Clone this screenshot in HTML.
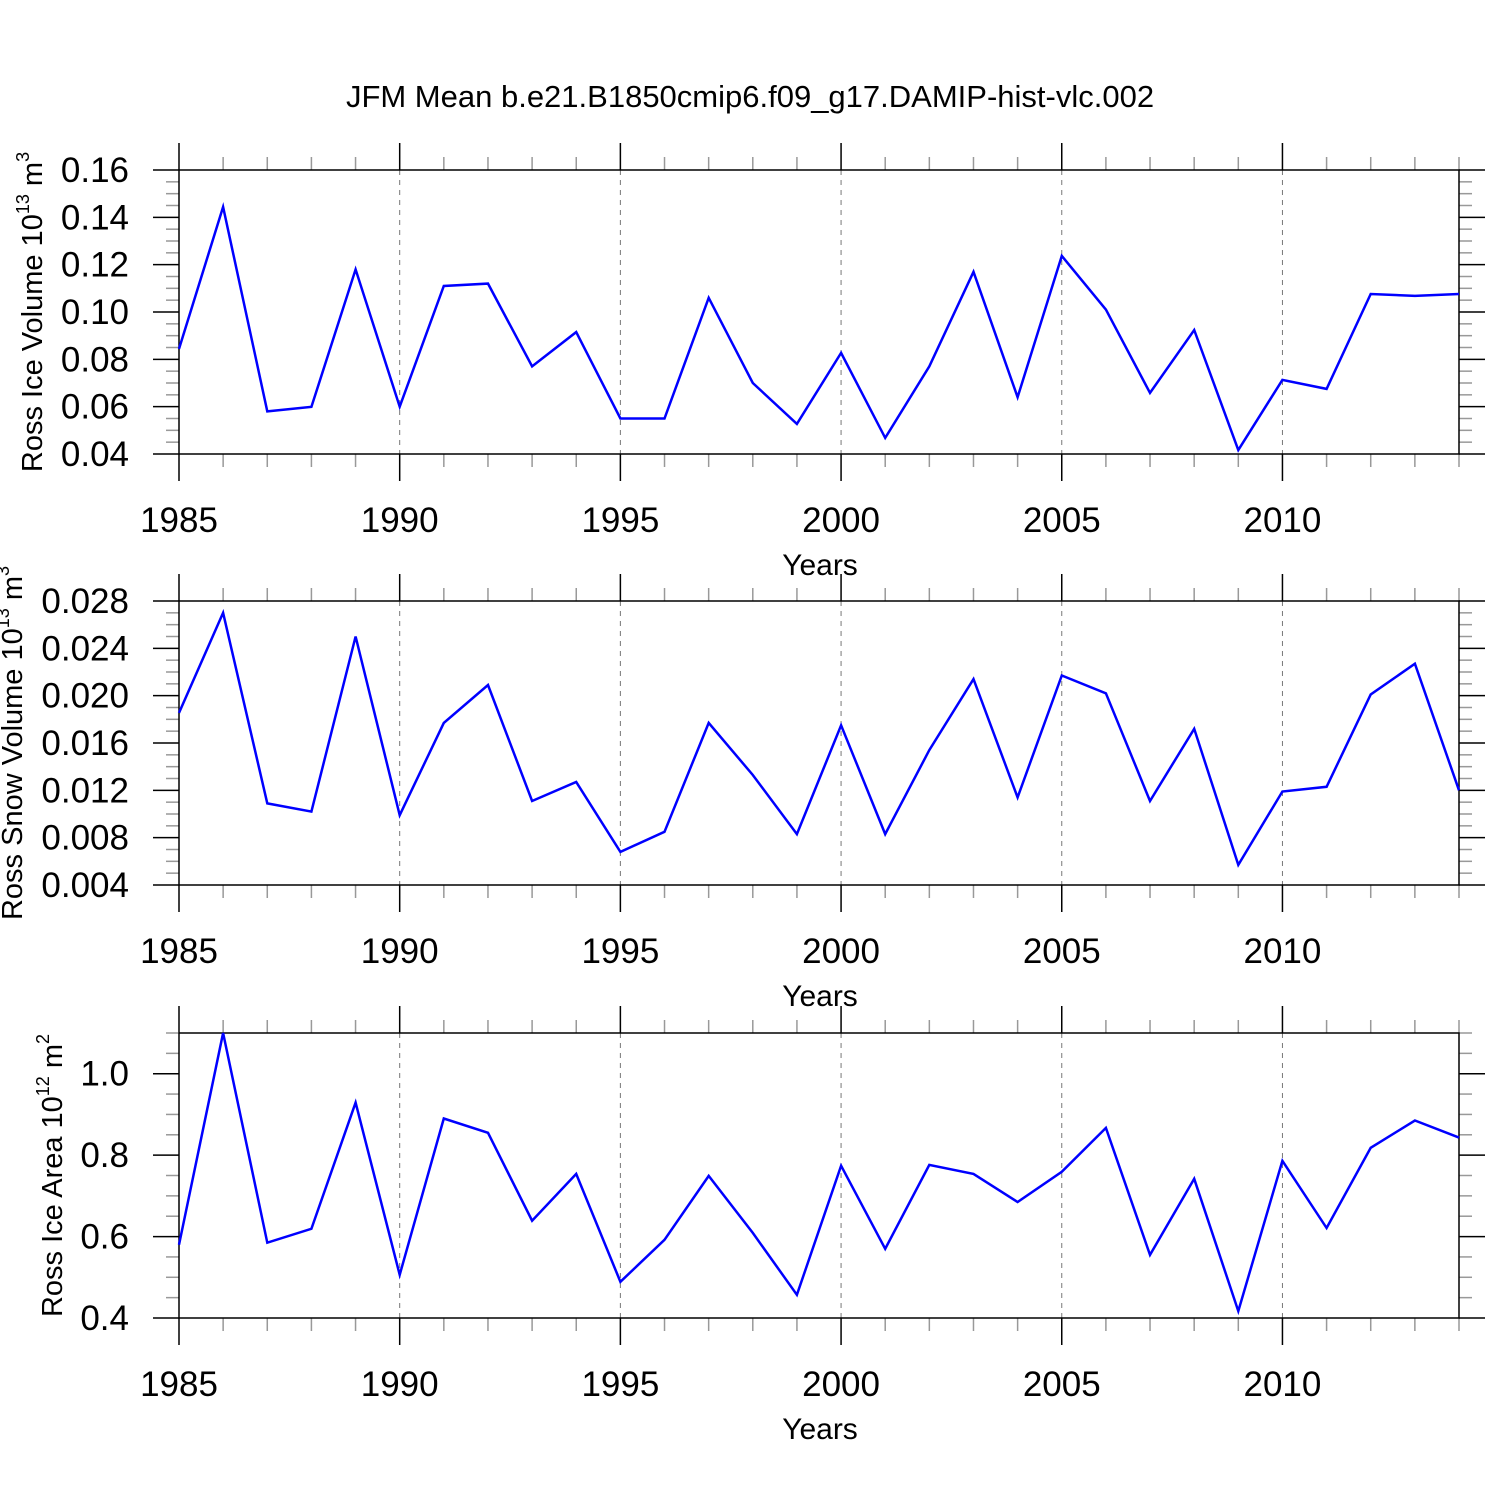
<!DOCTYPE html>
<html><head><meta charset="utf-8"><style>
html,body{margin:0;padding:0;background:#fff;}
svg{display:block;font-family:"Liberation Sans",Arial,sans-serif;}
</style></head><body>
<svg id="chart" width="1500" height="1500" viewBox="0 0 1500 1500" xmlns="http://www.w3.org/2000/svg">
<text x="750" y="107" font-size="31" text-anchor="middle">JFM Mean b.e21.B1850cmip6.f09_g17.DAMIP-hist-vlc.002</text>
</svg>
<script>
const years = [1985,1986,1987,1988,1989,1990,1991,1992,1993,1994,1995,1996,1997,1998,1999,2000,2001,2002,2003,2004,2005,2006,2007,2008,2009,2010,2011,2012,2013,2014];
const iceVolume = [0.0844,0.1444,0.058,0.0599,0.118,0.060,0.111,0.112,0.077,0.0915,0.055,0.055,0.106,0.070,0.0527,0.0827,0.0468,0.077,0.117,0.064,0.1237,0.101,0.0658,0.0924,0.0417,0.0713,0.0675,0.1076,0.1068,0.1076];
const snowVolume = [0.01854,0.027,0.0109,0.0102,0.0250,0.0099,0.0177,0.0209,0.0111,0.0127,0.0068,0.0085,0.0177,0.0133,0.0083,0.0175,0.0083,0.0154,0.0214,0.0114,0.0217,0.0202,0.0111,0.0172,0.0057,0.0119,0.0123,0.0201,0.0227,0.012];
const iceArea = [0.58,1.10,0.585,0.619,0.929,0.506,0.890,0.855,0.639,0.754,0.489,0.592,0.749,0.609,0.457,0.774,0.570,0.776,0.754,0.685,0.759,0.867,0.555,0.742,0.417,0.786,0.621,0.818,0.885,0.843];
const xTicks = [1985,1990,1995,2000,2005,2010];
const iceVolTicks = ["0.04","0.06","0.08","0.10","0.12","0.14","0.16"];
const snowVolTicks = ["0.004","0.008","0.012","0.016","0.020","0.024","0.028"];
const iceAreaTicks = ["0.4","0.6","0.8","1.0"];

const NS="http://www.w3.org/2000/svg";
const svg=document.getElementById('chart');
const X0=179,X1=1459;
function xs(yr){return X0+(yr-1985)*(X1-X0)/29;}
function mk(tag,attrs,parent){const e=document.createElementNS(NS,tag);for(const k in attrs)e.setAttribute(k,attrs[k]);(parent||svg).appendChild(e);return e;}

const panels=[
 {name:'ice-volume',top:170,bot:454,min:0.04,max:0.16,ticks:iceVolTicks,minor:0.005,data:iceVolume,lbl:'Ross Ice Volume 10',exp:'13',unit:' m',uexp:'3',lx:42},
 {name:'snow-volume',top:601,bot:885,min:0.004,max:0.028,ticks:snowVolTicks,minor:0.001,data:snowVolume,lbl:'Ross Snow Volume 10',exp:'13',unit:' m',uexp:'3',lx:22},
 {name:'ice-area',top:1033,bot:1318,min:0.4,max:1.1,ticks:iceAreaTicks,minor:0.05,data:iceArea,lbl:'Ross Ice Area 10',exp:'12',unit:' m',uexp:'2',lx:62}
];
panels.forEach(p=>{
 const g=mk('g',{});
 
 
 const ys=v=>p.bot-(v-p.min)*(p.bot-p.top)/(p.max-p.min);
 xTicks.slice(1).forEach(t=>{const l=mk('line',{x1:xs(t),x2:xs(t),y1:p.top,y2:p.bot,stroke:'#777','stroke-width':1,'stroke-dasharray':'5,5'},g);
  });
 years.forEach(yr=>{const maj=xTicks.includes(yr);const x=xs(yr);const L=maj?27:13;
  mk('line',{x1:x,x2:x,y1:p.top-L,y2:p.top,stroke:maj?'#000':'#999','stroke-width':1.5},g);
  mk('line',{x1:x,x2:x,y1:p.bot,y2:p.bot+L,stroke:maj?'#000':'#999','stroke-width':1.5},g);
 });
 const n=Math.round((p.max-p.min)/p.minor);
 for(let i=0;i<=n;i++){const v=p.min+i*p.minor;const y=ys(v);const maj=(i%4===0);const L=maj?26:13;
  mk('line',{x1:X0-L,x2:X0,y1:y,y2:y,stroke:maj?'#000':'#999','stroke-width':1.5},g);
  mk('line',{x1:X1,x2:X1+L,y1:y,y2:y,stroke:maj?'#000':'#999','stroke-width':1.5},g);
 }
 const r=mk('rect',{x:X0,y:p.top,width:X1-X0,height:p.bot-p.top,fill:'none',stroke:'#000','stroke-width':1.5},g);
 
 p.ticks.forEach(t=>{const tx=mk('text',{x:129,y:ys(parseFloat(t))+12,'font-size':35,'text-anchor':'end'},g);tx.textContent=t;
  });
 xTicks.forEach(t=>{const tx=mk('text',{x:xs(t),y:p.bot+78,'font-size':35,'text-anchor':'middle'},g);tx.textContent=t;
  });
 const xt=mk('text',{x:820,y:p.bot+121,'font-size':30,'text-anchor':'middle'},g);xt.textContent='Years';
 
 const cy=(p.top+p.bot)/2;
 const yt=mk('text',{x:p.lx,y:cy,'font-size':29,'text-anchor':'middle',transform:`rotate(-90 ${p.lx} ${cy})`},g);
 
 const s1=mk('tspan',{},yt);s1.textContent=p.lbl;
 const s2=mk('tspan',{'font-size':18,dy:-13},yt);s2.textContent=p.exp;
 const s3=mk('tspan',{dy:13},yt);s3.textContent=p.unit;
 const s4=mk('tspan',{'font-size':18,dy:-13},yt);s4.textContent=p.uexp;
 const pts=years.map((yr,i)=>xs(yr).toFixed(1)+','+ys(p.data[i]).toFixed(1)).join(' ');
 const pl=mk('polyline',{points:pts,fill:'none',stroke:'#0000ff','stroke-width':2.5,'stroke-linejoin':'miter'},g);
 
});
</script>
</body></html>
